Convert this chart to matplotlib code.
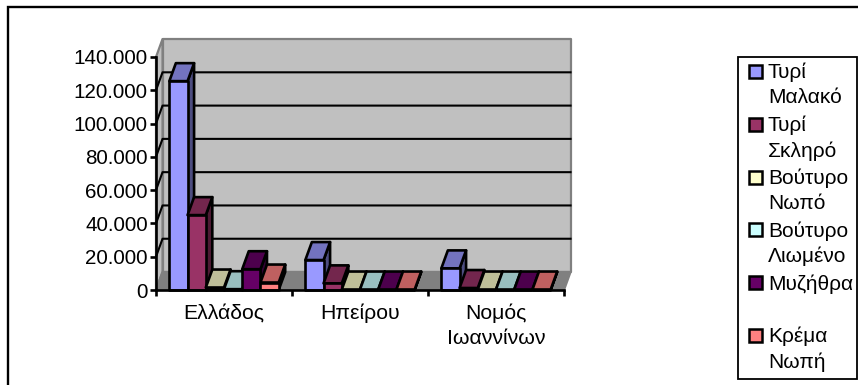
import matplotlib
matplotlib.use('Agg')
import matplotlib.pyplot as plt
from matplotlib.patches import Polygon, Rectangle
from matplotlib.colors import to_rgb

plt.rcParams['font.family'] = ['Liberation Sans', 'DejaVu Sans']

categories = ['Ελλάδος', 'Ηπείρου', 'Νομός\nΙωαννίνων']
series_names = ['Τυρί\nΜαλακό', 'Τυρί\nΣκληρό', 'Βούτυρο\nΝωπό',
                'Βούτυρο\nΛιωμένο', 'Μυζήθρα\n', 'Κρέμα\nΝωπή']
series_colors = ['#9999FF', '#993366', '#FFFFCC', '#CCFFFF', '#660066', '#FF8080']

tyri_malako = [125500, 18000, 13000]
tyri_skliro = [45000, 4000, 1200]
voutyro_nopo = [1500, 300, 300]
voutyro_liomeno = [500, 300, 300]
myzithra = [12500, 300, 300]
krema_nopi = [4500, 300, 300]
series_values = [tyri_malako, tyri_skliro, voutyro_nopo,
                 voutyro_liomeno, myzithra, krema_nopi]

y_ticks = [0, 20000, 40000, 60000, 80000, 100000, 120000, 140000]
y_labels = ['0', '20.000', '40.000', '60.000', '80.000', '100.000', '120.000', '140.000']

W, H = 858, 385
Y_MAX = 140000
N = len(categories)
DX = 0.048      # depth of the fake 3d box, in category units
DY = 10800      # same, in value units
BAR_W = 0.134
EDGE = 'black'
LW = 1.9


def shade(color, k):
    return tuple(c * k for c in to_rgb(color))


def poly(ax, pts, fc, ec=EDGE, lw=LW, z=1):
    ax.add_patch(Polygon(pts, closed=True, facecolor=fc, edgecolor=ec, linewidth=lw,
                         zorder=z, clip_on=False, joinstyle='round'))


def draw_bar(ax, x0, v, color, z):
    x1 = x0 + BAR_W
    poly(ax, [(x1, 0), (x1 + DX, DY), (x1 + DX, v + DY), (x1, v)], shade(color, 0.5), z=z)
    poly(ax, [(x0, v), (x1, v), (x1 + DX, v + DY), (x0 + DX, v + DY)], shade(color, 0.75), z=z)
    poly(ax, [(x0, 0), (x1, 0), (x1, v), (x0, v)], color, z=z)


fig = plt.figure(figsize=(W / 100, H / 100), dpi=100)
ax = fig.add_axes([156 / W, 1 - 290 / H, (564 - 156) / W, (290 - 57) / H])
ax.set_xlim(0, N)
ax.set_ylim(0, Y_MAX)
ax.patch.set_visible(False)

# chart border, only the top and left edges fall inside the picture
fig.add_artist(Rectangle((8 / W, -0.02), 2, 1 + 0.02 - 7.5 / H, transform=fig.transFigure,
                         fill=False, edgecolor='black', linewidth=1.7))

# walls and floor
poly(ax, [(DX, DY), (N + DX, DY), (N + DX, Y_MAX + DY), (DX, Y_MAX + DY)], '#C0C0C0', ec='#808080', lw=1.6, z=1)
poly(ax, [(0, 0), (DX, DY), (DX, Y_MAX + DY), (0, Y_MAX)], '#C0C0C0', ec='#808080', lw=1.6, z=1)
poly(ax, [(0, 0), (N, 0), (N + DX, DY), (DX, DY)], '#808080', ec='#808080', lw=1.6, z=1)

# gridlines run along the back wall and down the side wall
for v in y_ticks[1:-1]:
    ax.plot([0, DX, N + DX], [v, v + DY, v + DY], color='black', lw=1.5, zorder=2, clip_on=False)

gap = (1 - BAR_W * len(series_values)) / 2
for g in range(N):
    for s, vals in enumerate(series_values):
        draw_bar(ax, g + gap + s * BAR_W, vals[g], series_colors[s], 3 + g * 10 + s)

for side in ['top', 'right']:
    ax.spines[side].set_visible(False)
for side in ['left', 'bottom']:
    ax.spines[side].set_linewidth(1.9)
    ax.spines[side].set_zorder(50)

ax.set_yticks(y_ticks)
ax.set_yticklabels(y_labels, fontsize=14.9)
ax.set_xticks(range(N + 1))
ax.set_xticklabels([])
ax.set_xticks([i + 0.5 for i in range(N)], minor=True)
ax.set_xticklabels(categories, minor=True, fontsize=15.3, linespacing=1.38)
ax.tick_params(axis='both', which='major', length=4, width=1.9, color='black')
ax.tick_params(axis='x', which='minor', length=0, pad=10)
ax.tick_params(axis='y', pad=2)

# legend box, drawn by hand to keep the two-line entries like the original
fig.add_artist(Rectangle((738 / W, 1 - 379 / H), 119 / W, (379 - 57) / H, transform=fig.transFigure,
                         facecolor='white', edgecolor='black', linewidth=1.3))
row_h = 52.8
for i, (name, color) in enumerate(zip(series_names, series_colors)):
    top = 63 + i * row_h
    fig.add_artist(Rectangle((749 / W, 1 - (top + 15) / H), 13 / W, 13 / H, transform=fig.transFigure,
                             facecolor=color, edgecolor='black', linewidth=1.8))
    fig.text(768 / W, 1 - top / H, name, fontsize=15, va='top', ha='left', linespacing=1.375)

fig.savefig('out.png', dpi=100)
